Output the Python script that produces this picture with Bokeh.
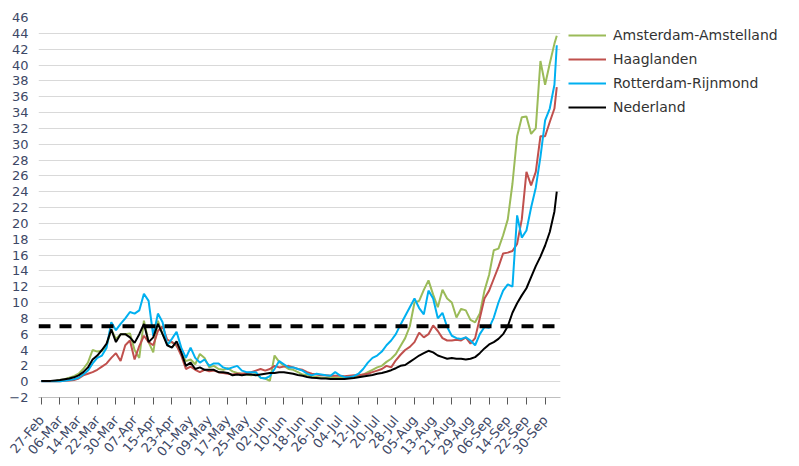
from bokeh.plotting import figure
from bokeh.models import FixedTicker, Span, Legend, LegendItem
from bokeh.embed import file_html
from bokeh.resources import INLINE

# ---- data (days since 27-Feb, read every two days) ----
days = list(range(0, 221, 2)) + [221]

amsterdam = [
    0.1, 0.1, 0.1, 0.1, 0.2, 0.3, 0.5, 0.7, 1.0, 1.6,
    2.4, 4.0, 3.8, 3.9, 4.6, 6.6, 5.4, 6.0, 6.0, 6.1,
    4.0, 3.0, 7.7, 5.0, 3.7, 7.7, 6.0, 4.8, 5.0, 4.5,
    3.6, 2.6, 2.8, 2.2, 3.5, 3.0, 1.8, 2.0, 1.6, 1.5,
    1.7, 1.3, 1.1, 1.0, 0.9, 0.8, 1.0, 0.5, 0.4, 0.1,
    3.3, 2.5, 2.0, 1.6, 1.5, 1.2, 0.9, 0.8, 0.6, 0.6,
    0.5, 0.5, 0.6, 0.5, 0.5, 0.6, 0.5, 0.6, 0.7, 0.9,
    1.2, 1.5, 1.8, 2.0, 2.5, 2.9, 3.5, 4.5, 5.5, 7.0,
    10.0, 10.2, 11.6, 12.8, 11.0, 9.4, 11.6, 10.5, 10.0, 8.1,
    9.2, 9.0, 7.8, 7.5, 8.6, 11.5, 13.5, 16.6, 16.8, 18.5,
    20.5, 25.0, 31.0, 33.4, 33.5, 31.3, 32.0, 40.5, 37.5, 40.2,
    42.7, 43.7,
]

haaglanden = [
    0.05, 0.05, 0.05, 0.05, 0.05, 0.1, 0.15, 0.2, 0.4, 0.8,
    1.0, 1.2, 1.5, 1.9, 2.3, 3.0, 3.6, 2.6, 4.6, 5.2,
    2.8, 4.5, 5.8, 5.0, 4.6, 6.4, 7.0, 5.3, 5.0, 4.6,
    3.3, 1.6, 1.9, 1.5, 1.2, 1.5, 1.3, 1.4, 1.2, 1.1,
    1.0, 0.9, 1.0, 1.0, 1.1, 1.2, 1.4, 1.6, 1.4, 1.6,
    2.0, 1.8, 1.9, 2.0, 1.8, 1.6, 1.5, 1.2, 1.0, 0.9,
    0.8, 0.8, 0.75, 0.75, 0.75, 0.7, 0.75, 0.8, 0.8, 0.9,
    1.0, 1.2, 1.4, 1.6, 2.0, 1.8, 2.7, 3.4, 4.0, 4.4,
    5.0, 6.2, 5.6, 6.0, 7.1, 6.4, 5.5, 5.2, 5.2, 5.3,
    5.2, 5.6, 4.8, 5.5, 8.0, 10.5, 11.5, 13.0, 14.5, 16.2,
    16.3, 16.5, 17.4, 20.5, 26.5, 24.8, 26.5, 31.0, 31.0, 32.8,
    34.5, 37.2,
]

rotterdam = [
    0.05, 0.05, 0.05, 0.05, 0.05, 0.1, 0.2, 0.3, 0.5, 0.9,
    1.4, 2.3, 3.0, 3.3, 4.3, 7.5, 6.5, 7.3, 8.0, 8.8,
    8.6, 9.0, 11.1, 10.2, 5.8, 8.6, 7.5, 4.6, 5.4, 6.3,
    4.3, 3.0, 4.3, 3.0, 2.4, 2.8, 2.0, 2.3, 2.3, 1.8,
    1.6, 1.8, 2.0, 1.4, 1.2, 1.2, 1.2, 0.5, 0.4, 0.7,
    1.6, 2.6, 2.2, 1.8, 1.8, 1.6, 1.4, 1.0, 0.8, 1.0,
    0.9, 0.8, 0.75, 1.2, 0.8, 0.6, 0.55, 0.7, 1.0, 1.6,
    2.4, 3.0, 3.3, 3.8, 4.6, 5.2, 6.0, 7.2, 8.3, 9.4,
    10.5, 9.3, 8.5, 11.5, 10.5, 8.0, 8.7, 6.9, 5.8, 5.5,
    5.4, 5.6, 5.2, 4.6, 6.0, 6.9, 6.8, 8.1, 10.0, 11.5,
    12.3, 12.0, 21.0, 18.2, 19.1, 22.0, 24.5, 28.4, 33.0, 34.5,
    37.5, 42.5,
]

nederland = [
    0.1, 0.1, 0.1, 0.15, 0.2, 0.3, 0.4, 0.55, 0.8, 1.2,
    1.8, 2.8, 3.3, 4.0, 4.8, 6.6, 5.0, 6.0, 6.0, 5.6,
    4.9, 6.0, 7.3, 5.0, 5.6, 7.3, 6.0, 4.6, 4.3, 5.1,
    3.7, 2.0, 2.4, 1.6, 1.8, 1.5, 1.5, 1.5, 1.2, 1.2,
    1.1, 0.8, 0.9, 0.8, 0.9, 0.9, 0.8, 0.9, 1.0, 1.1,
    1.1, 1.2, 1.2, 1.1, 1.0, 0.85, 0.75, 0.6, 0.5, 0.45,
    0.4, 0.4, 0.35, 0.35, 0.35, 0.35, 0.4, 0.45, 0.55, 0.65,
    0.75, 0.85, 1.0, 1.1, 1.25, 1.45, 1.7, 2.0, 2.1, 2.5,
    2.9, 3.3, 3.6, 3.9, 3.7, 3.3, 3.1, 2.9, 3.0, 2.9,
    2.9, 2.8, 2.9, 3.1, 3.6, 4.2, 4.7, 5.0, 5.4, 6.0,
    7.0, 8.7, 9.9, 10.9, 11.8, 13.2, 14.6, 15.8, 17.2, 18.9,
    21.5, 24.0,
]

series_names = ["Amsterdam-Amstelland", "Haaglanden", "Rotterdam-Rijnmond", "Nederland"]
series_colors = ["#9bbb59", "#c0504d", "#00b0f0", "#000000"]

threshold = 7

x_tick_labels = [
    "27-Feb", "06-Mar", "14-Mar", "22-Mar", "30-Mar", "07-Apr", "15-Apr",
    "23-Apr", "01-May", "09-May", "17-May", "25-May", "02-Jun", "10-Jun",
    "18-Jun", "26-Jun", "04-Jul", "12-Jul", "20-Jul", "28-Jul", "05-Aug",
    "13-Aug", "21-Aug", "29-Aug", "06-Sep", "14-Sep", "22-Sep", "30-Sep",
]
x_tick_step = 8
y_ticks = list(range(-2, 47, 2))

# ---- figure ----
p = figure(
    frame_width=522, frame_height=380,
    min_border_left=38, min_border_top=17, min_border_right=0, min_border_bottom=0,
    x_range=(-1.2, 222.6), y_range=(-2, 46),
    output_backend="svg", toolbar_location=None,
)
p.outline_line_color = None
p.background_fill_color = "white"

text_color = "#3d4866"
font = "DejaVu Sans"

# grid
p.xgrid.grid_line_color = None
p.ygrid.ticker = FixedTicker(ticks=[t for t in y_ticks if -2 < t < 46])
p.ygrid.grid_line_color = "#d9d9d9"
p.ygrid.grid_line_width = 1

# y axis
p.yaxis.ticker = FixedTicker(ticks=y_ticks)
p.yaxis.major_label_overrides = {t: ("\u2212" + str(-t) if t < 0 else str(t)) for t in y_ticks}
p.yaxis.axis_line_color = None
p.yaxis.major_tick_line_color = None
p.yaxis.minor_tick_line_color = None
p.yaxis.major_label_text_font = font
p.yaxis.major_label_text_font_size = "13px"
p.yaxis.major_label_text_color = text_color
p.yaxis.major_label_standoff = 4

# x axis
x_ticks = [i * x_tick_step for i in range(len(x_tick_labels))]
p.xaxis.ticker = FixedTicker(ticks=x_ticks)
p.xaxis.major_label_overrides = {t: lab for t, lab in zip(x_ticks, x_tick_labels)}
p.xaxis.axis_line_color = "#bfbfbf"
p.xaxis.major_tick_line_color = "#595959"
p.xaxis.major_tick_out = 7
p.xaxis.major_tick_in = 0
p.xaxis.minor_tick_line_color = None
p.xaxis.major_label_orientation = 0.87
p.xaxis.major_label_text_font = font
p.xaxis.major_label_text_font_size = "13px"
p.xaxis.major_label_text_color = text_color
p.xaxis.major_label_standoff = 13

# threshold line
p.add_layout(Span(location=threshold, dimension="width", line_color="black",
                  line_width=4, line_dash="12 9"))

# series
renderers = []
for name, vals, col in zip(series_names, [amsterdam, haaglanden, rotterdam, nederland], series_colors):
    r = p.line(days, vals, line_color=col, line_width=2)
    renderers.append(r)

legend = Legend(items=[LegendItem(label=n, renderers=[r]) for n, r in zip(series_names, renderers)],
                location="top_left")
legend.margin = 8
legend.padding = 7
legend.border_line_color = None
legend.background_fill_alpha = 0
legend.label_text_font = font
legend.label_text_font_size = "14px"
legend.label_text_color = "#333333"
legend.glyph_width = 38
legend.glyph_height = 20
legend.label_height = 20
legend.spacing = 4
legend.label_standoff = 7
p.add_layout(legend, "right")

open("out.html", "w").write(file_html(p, INLINE))
